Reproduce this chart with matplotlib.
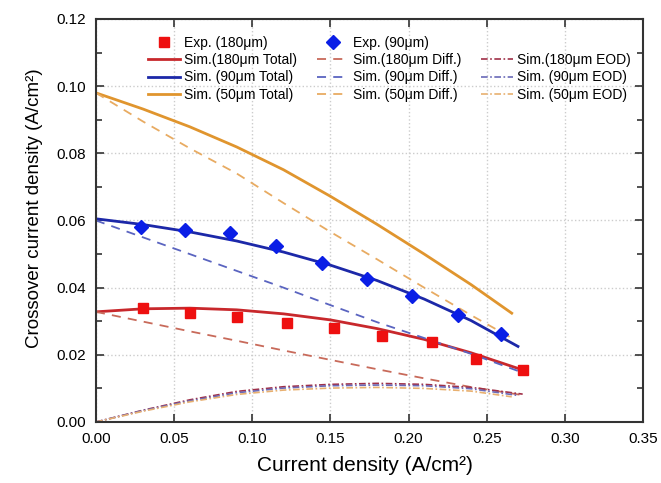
import numpy as np
import matplotlib
matplotlib.use("Agg")
import matplotlib.pyplot as plt
from matplotlib.lines import Line2D
from matplotlib.ticker import MultipleLocator

plt.rcParams['font.family'] = ['Liberation Sans', 'DejaVu Sans']

# experimental data
exp180_x = [0.030, 0.060, 0.090, 0.122, 0.152, 0.183, 0.215, 0.243, 0.273]
exp180_y = [0.0340, 0.0325, 0.0312, 0.0295, 0.0281, 0.0256, 0.0237, 0.0187, 0.0155]
exp90_x = [0.029, 0.057, 0.086, 0.115, 0.1445, 0.1733, 0.2025, 0.2315, 0.259]
exp90_y = [0.0581, 0.0573, 0.0564, 0.0525, 0.0474, 0.0425, 0.0375, 0.0320, 0.0262]

# simulation curves
sim180_x = [0.0, 0.03, 0.06, 0.09, 0.12, 0.15, 0.18, 0.21, 0.24, 0.273]
sim180_tot = [0.0328, 0.0337, 0.0339, 0.0334, 0.0322, 0.0304, 0.0278, 0.0246, 0.0206, 0.0155]
sim180_diff = [0.0328, 0.0299, 0.0270, 0.0242, 0.0213, 0.0185, 0.0157, 0.0130, 0.0104, 0.0080]
sim180_eod = [0.0, 0.0035, 0.0066, 0.0091, 0.0105, 0.0112, 0.0115, 0.0112, 0.0103, 0.0083]

sim90_x = [0.0, 0.03, 0.06, 0.09, 0.12, 0.15, 0.18, 0.21, 0.24, 0.27]
sim90_tot = [0.0605, 0.0588, 0.0566, 0.0539, 0.0506, 0.0467, 0.0421, 0.0366, 0.0302, 0.0225]
sim90_diff = [0.0600, 0.0550, 0.0500, 0.0450, 0.0400, 0.0348, 0.0297, 0.0250, 0.0203, 0.0152]
sim90_eod = [0.0, 0.0034, 0.0063, 0.0087, 0.0101, 0.0108, 0.0110, 0.0108, 0.0099, 0.0079]

sim50_x = [0.0, 0.03, 0.06, 0.09, 0.12, 0.15, 0.18, 0.21, 0.24, 0.266]
sim50_tot = [0.0980, 0.0932, 0.0879, 0.0819, 0.0751, 0.0672, 0.0588, 0.0500, 0.0409, 0.0324]
sim50_diff = [0.0980, 0.0895, 0.0815, 0.0740, 0.0652, 0.0566, 0.0484, 0.0400, 0.0318, 0.0250]
sim50_eod = [0.0, 0.0032, 0.0060, 0.0082, 0.0095, 0.0101, 0.0103, 0.0100, 0.0092, 0.0075]

red, red_l = '#c8282c', '#c86a5a'
blue, blue_l = '#1c28a8', '#5a64c0'
org, org_l = '#e0952e', '#e8ab62'

fig = plt.figure(figsize=(6.61, 4.83), dpi=100)
ax = fig.add_axes([0.1452, 0.1263, 0.8276, 0.8344])

h_e180, = ax.plot(exp180_x, exp180_y, 's', color='#ee1010', ms=7.5, mec='#ee1010', zorder=5)
h_e90, = ax.plot(exp90_x, exp90_y, 'D', color='#0a1ee6', ms=7.5, mec='#0a1ee6', zorder=5)

h_t180, = ax.plot(sim180_x, sim180_tot, '-', color=red, lw=2)
h_t90, = ax.plot(sim90_x, sim90_tot, '-', color=blue, lw=2)
h_t50, = ax.plot(sim50_x, sim50_tot, '-', color=org, lw=2)

h_d180, = ax.plot(sim180_x, sim180_diff, '--', color=red_l, lw=1.3, dashes=(5, 4))
h_d90, = ax.plot(sim90_x, sim90_diff, '--', color=blue_l, lw=1.3, dashes=(5, 4))
h_d50, = ax.plot(sim50_x, sim50_diff, '--', color=org_l, lw=1.3, dashes=(5, 4))

h_o180, = ax.plot(sim180_x, sim180_eod, '-.', color='#a03048', lw=1.2, dashes=(4, 1.5, 1, 1.5))
h_o90, = ax.plot(sim90_x, sim90_eod, '-.', color='#6a6ab8', lw=1.2, dashes=(4, 1.5, 1, 1.5))
h_o50, = ax.plot(sim50_x, sim50_eod, '-.', color='#e8b070', lw=1.2, dashes=(4, 1.5, 1, 1.5))

ax.set_xlim(0, 0.35)
ax.set_ylim(0, 0.12)
ax.xaxis.set_major_locator(MultipleLocator(0.05))
ax.yaxis.set_major_locator(MultipleLocator(0.02))
ax.yaxis.set_minor_locator(MultipleLocator(0.01))
ax.xaxis.set_major_formatter(plt.FormatStrFormatter('%.2f'))
ax.yaxis.set_major_formatter(plt.FormatStrFormatter('%.2f'))
ax.tick_params(which='both', direction='in', top=True, right=True, labelsize=11, color='#333333')
ax.tick_params(which='major', length=6, width=1.2, pad=7)
ax.tick_params(which='minor', length=4, width=1.2)
ax.grid(True, which='major', linestyle=':', color='#cccccc', lw=1)
for s in ax.spines.values():
    s.set_linewidth(1.5)
    s.set_color('#333333')

ax.set_xlabel('Current density (A/cm²)', fontsize=15)
ax.set_ylabel('Crossover current density (A/cm²)', fontsize=13.5)
ax.xaxis.set_label_coords(0.492, -0.085)
ax.yaxis.set_label_coords(-0.097, 0.53)

blank = Line2D([], [], linestyle='none')
handles = [h_e180, h_t180, h_t90, h_t50,
           h_e90, h_d180, h_d90, h_d50,
           blank, h_o180, h_o90, h_o50]
labels = ['Exp. (180μm)', 'Sim.(180μm Total)', 'Sim. (90μm Total)', 'Sim. (50μm Total)',
          'Exp. (90μm)', 'Sim.(180μm Diff.)', 'Sim. (90μm Diff.)', 'Sim. (50μm Diff.)',
          '', 'Sim.(180μm EOD)', 'Sim. (90μm EOD)', 'Sim. (50μm EOD)']
ax.legend(handles, labels, ncol=3, frameon=False, fontsize=10, loc='upper right',
          bbox_to_anchor=(1.0, 0.99), handlelength=2.3, handletextpad=0.3,
          columnspacing=1.4, labelspacing=0.25)

fig.savefig('out.png', dpi=100)
